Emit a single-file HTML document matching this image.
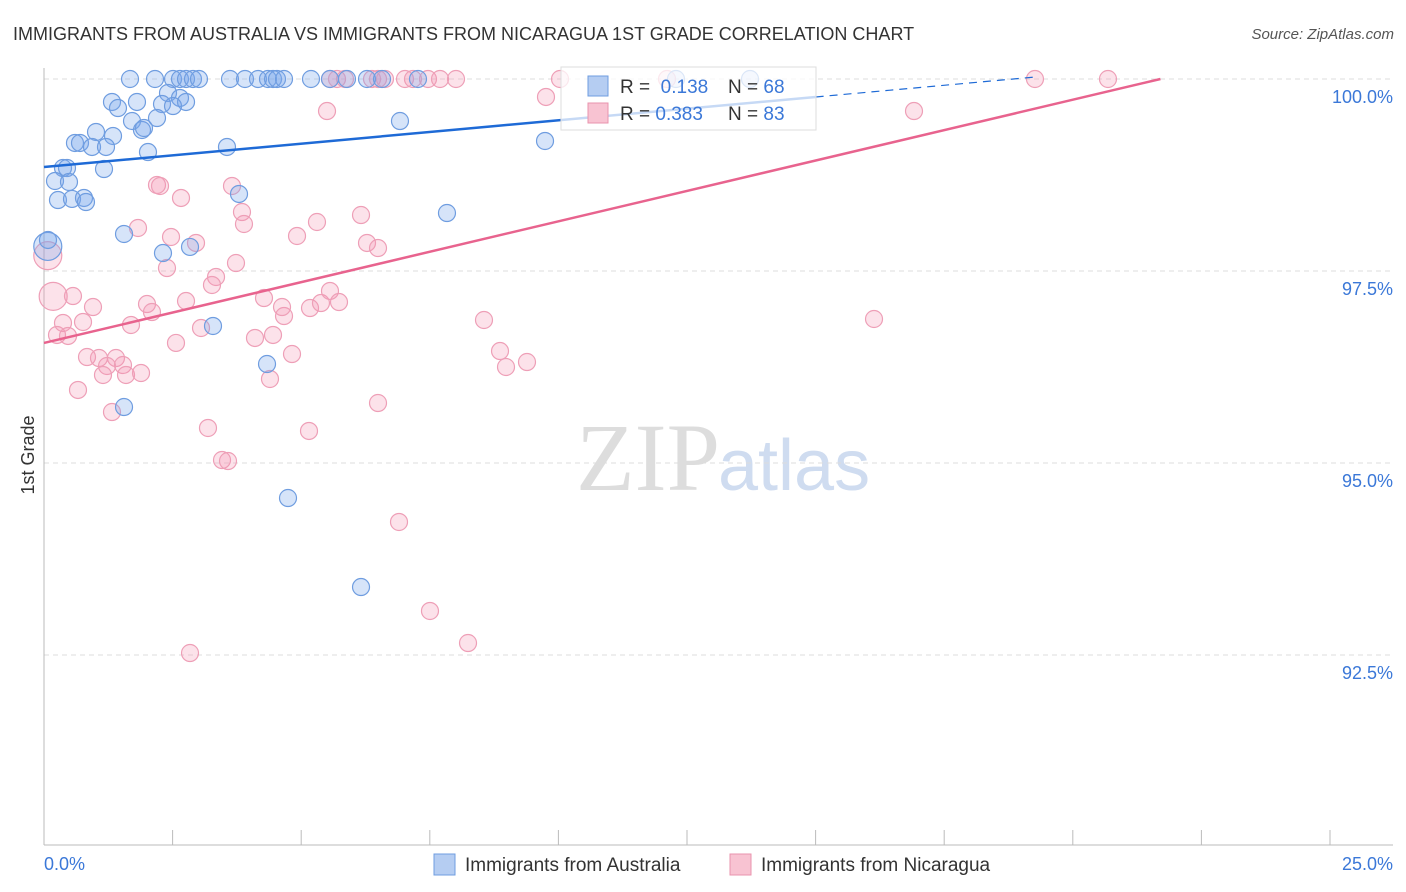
<!DOCTYPE html>
<html><head><meta charset="utf-8"><style>
body{margin:0;background:#fff;font-family:"Liberation Sans",sans-serif;}
svg{display:block}
</style></head><body>
<svg id="chart" width="1406" height="892" xmlns="http://www.w3.org/2000/svg">
<text x="13" y="40" font-size="18" fill="#333">IMMIGRANTS FROM AUSTRALIA VS IMMIGRANTS FROM NICARAGUA 1ST GRADE CORRELATION CHART</text>
<text x="1394" y="39" font-size="15" fill="#555" font-style="italic" text-anchor="end">Source: ZipAtlas.com</text>
<text x="720" y="490" font-size="96" fill="#ddd" font-family="Liberation Serif,serif" text-anchor="end">ZIP</text>
<text x="718" y="490" font-size="72" fill="#cfdcf0">atlas</text>
<text x="34" y="455" font-size="18" fill="#333" transform="rotate(-90 34 455)" text-anchor="middle">1st Grade</text>
<g id="grid"></g><g id="pts"></g><g id="lines"></g>
<g>
<rect x="561" y="67" width="255" height="63" fill="#fff" fill-opacity="0.75" stroke="#ddd"/>
<rect x="588" y="76" width="20" height="20" fill="#b5cdf2" stroke="#6f9de0"/>
<rect x="588" y="103" width="20" height="20" fill="#f8c3d2" stroke="#e993ad"/>
<text x="620" y="93" font-size="19" fill="#333">R = <tspan fill="#3b78d8">&#160;0.138</tspan><tspan x="728">N = </tspan><tspan fill="#3b78d8">68</tspan></text>
<text x="620" y="120" font-size="19" fill="#333">R = <tspan fill="#3b78d8">0.383</tspan><tspan x="728">N = </tspan><tspan fill="#3b78d8">83</tspan></text>
</g>
<g>
<rect x="434" y="854" width="21" height="21" fill="#b5cdf2" stroke="#6f9de0"/>
<text x="465" y="871" font-size="19" fill="#333">Immigrants from Australia</text>
<rect x="730" y="854" width="21" height="21" fill="#f8c3d2" stroke="#e993ad"/>
<text x="761" y="871" font-size="19" fill="#333">Immigrants from Nicaragua</text>
</g>
<text x="44" y="870" font-size="18" fill="#3b78d8">0.0%</text>
<text x="1393" y="870" font-size="18" fill="#3b78d8" text-anchor="end">25.0%</text>
</svg>
<script>
const yTicks=[100,97.5,95,92.5];
const yTickLabels=["100.0%","97.5%","95.0%","92.5%"];
const bluePx=[[130,79],[155,79],[173,79],[180,79],[186,79],[193,79],[199,79],[230,79],[245,79],[258,79],[268,79],[273,79],[277,79],[284,79],[311,79],[330,79],[347,79],[367,79],[382,79],[418,79],[676,79],[750,79],[112,102],[137,102],[118,108],[168,93],[162,104],[180,98],[186,102],[173,106],[132,121],[157,118],[142,130],[144,128],[96,132],[113,136],[75,143],[80,143],[92,147],[106,147],[148,152],[227,147],[63,168],[67,168],[104,169],[55,181],[69,182],[58,200],[72,199],[84,198],[86,202],[124,234],[163,253],[190,247],[239,194],[400,121],[545,141],[447,213],[213,326],[267,364],[124,407],[288,498],[361,587],[48,240]];
const pinkPx=[[330,79],[337,79],[345,79],[372,79],[378,79],[385,79],[405,79],[413,79],[428,79],[440,79],[456,79],[560,79],[667,79],[1035,79],[1108,79],[327,111],[546,97],[914,111],[157,185],[160,186],[181,198],[232,186],[242,212],[244,224],[317,222],[361,215],[138,228],[171,237],[196,243],[297,236],[367,243],[378,248],[167,268],[236,263],[216,277],[212,285],[73,296],[147,304],[152,312],[93,307],[186,301],[264,298],[284,316],[282,307],[310,308],[321,303],[330,291],[339,302],[131,325],[63,323],[83,322],[57,335],[68,336],[176,343],[201,328],[255,338],[273,335],[484,320],[874,319],[87,357],[99,358],[116,358],[123,365],[107,366],[103,375],[126,375],[141,373],[292,354],[500,351],[506,367],[527,362],[78,390],[270,379],[112,412],[378,403],[208,428],[309,431],[222,460],[228,461],[399,522],[430,611],[468,643],[190,653]];
const blueX=bluePx.map(p=>+((p[0]-44)*25/1349).toFixed(3));
const blueY=bluePx.map(p=>+(100-(p[1]-79)/76.8).toFixed(3));
const pinkX=pinkPx.map(p=>+((p[0]-44)*25/1349).toFixed(3));
const pinkY=pinkPx.map(p=>+(100-(p[1]-79)/76.8).toFixed(3));
const blueBigX=[0.07],blueBigY=[97.82];
const pinkBigX=[0.07,0.17],pinkBigY=[97.7,97.17];
const blueTrendX=[0,14.3,18.37],blueTrendY=[98.854,99.766,100.026];
const pinkTrendX=[0,20.69],pinkTrendY=[96.563,100.0];
const X=v=>44+v*1349/25, Y=v=>79+(100-v)*76.8;
const NS="http://www.w3.org/2000/svg";
function mk(t,a,parent){const e=document.createElementNS(NS,t);for(const k in a)e.setAttribute(k,a[k]);parent.appendChild(e);return e;}
const grid=document.getElementById('grid');
yTicks.forEach((t,i)=>{
 const l=mk('line',{x1:44,x2:1393,y1:Y(t),y2:Y(t),stroke:'#ddd','stroke-dasharray':'5,4'},grid);
 
 
 const tx=mk('text',{x:1393,y:Y(t)+24,'font-size':18,fill:'#3b78d8','text-anchor':'end'},grid);
 tx.textContent=yTickLabels[i];
 
 
});
const ax=mk('line',{x1:44,x2:44,y1:68,y2:845,stroke:'#bbb'},grid);


const bx=mk('line',{x1:44,x2:1393,y1:845,y2:845,stroke:'#bbb'},grid);


for(let i=0;i<=10;i++){const x=44+i*128.6;const t=mk('line',{x1:x,x2:x,y1:830,y2:845,stroke:'#bbb'},grid);
 
 }
const pts=document.getElementById('pts');
function dot(x,y,r,blue){const c=mk('circle',{cx:X(x),cy:Y(y),r:r,fill:blue?'rgba(120,165,235,0.3)':'rgba(245,150,180,0.28)',stroke:blue?'#6f9de0':'#ee9fb7','stroke-width':1.2},pts);
 
 }
pinkBigX.forEach((x,i)=>dot(x,pinkBigY[i],14,false));
blueBigX.forEach((x,i)=>dot(x,blueBigY[i],14,true));
pinkX.forEach((x,i)=>dot(x,pinkY[i],8.5,false));
blueX.forEach((x,i)=>dot(x,blueY[i],8.5,true));
const lines=document.getElementById('lines');
const b1=mk('line',{x1:X(blueTrendX[0]),y1:Y(blueTrendY[0]),x2:X(blueTrendX[1]),y2:Y(blueTrendY[1]),stroke:'#1e6ad6','stroke-width':2.5},lines);


const b2=mk('line',{x1:X(blueTrendX[1]),y1:Y(blueTrendY[1]),x2:X(blueTrendX[2]),y2:Y(blueTrendY[2]),stroke:'#1e6ad6','stroke-width':1.2,'stroke-dasharray':'8,6'},lines);


const p1=mk('line',{x1:X(pinkTrendX[0]),y1:Y(pinkTrendY[0]),x2:X(pinkTrendX[1]),y2:Y(pinkTrendY[1]),stroke:'#e8638e','stroke-width':2.5},lines);


</script>
</body></html>
